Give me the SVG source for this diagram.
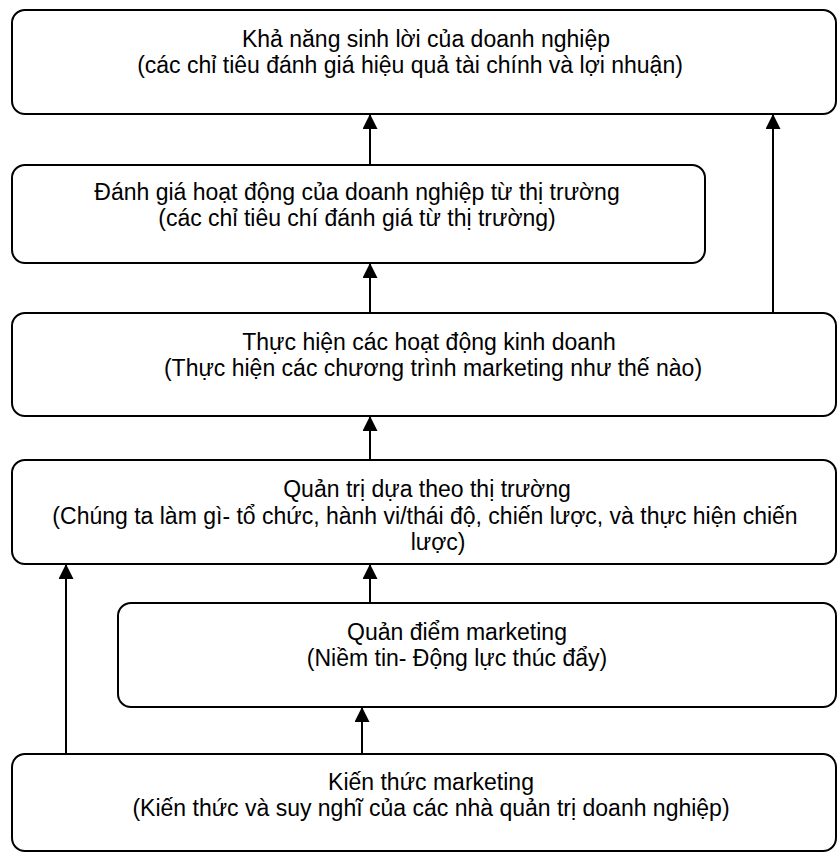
<svg xmlns="http://www.w3.org/2000/svg" width="838" height="853" viewBox="0 0 838 853">
<style>
.box{fill:#fff;stroke:#000;stroke-width:2}
.t{font-family:"Liberation Sans",Arial,sans-serif;font-size:23px;fill:#000;text-anchor:middle}
.c{stroke:#000;stroke-width:2;fill:none;marker-end:url(#ah)}
</style>
<defs>
<marker id="ah" markerUnits="userSpaceOnUse" markerWidth="16" markerHeight="16" refX="15" refY="7.5" orient="auto">
<path d="M0,0 L15,7.5 L0,15 z" fill="#000"/>
</marker>
</defs>
<rect width="838" height="853" fill="#fff"/>
<g id="n1">
<rect class="box" x="12" y="10" width="824" height="104" rx="13"/>
<text class="t" x="426" y="47">Khả năng sinh lời của doanh nghiệp</text>
<text class="t" x="410" y="73">(các chỉ tiêu đánh giá hiệu quả tài chính và lợi nhuận)</text>
</g>
<g id="n2">
<rect class="box" x="12" y="165" width="693" height="98" rx="13"/>
<text class="t" x="357" y="200">Đánh giá hoạt động của doanh nghiệp từ thị trường</text>
<text class="t" x="357" y="226">(các chỉ tiêu chí đánh giá từ thị trường)</text>
</g>
<g id="n3">
<rect class="box" x="12" y="313" width="824" height="103" rx="13"/>
<text class="t" x="429" y="350">Thực hiện các hoạt động kinh doanh</text>
<text class="t" x="433" y="376">(Thực hiện các chương trình marketing như thế nào)</text>
</g>
<g id="n4">
<rect class="box" x="12" y="460" width="824" height="104" rx="13"/>
<text class="t" x="427" y="497">Quản trị dựa theo thị trường</text>
<text class="t" x="425" y="524">(Chúng ta làm gì- tổ chức, hành vi/thái độ, chiến lược, và thực hiện chiến</text>
<text class="t" x="438" y="550">lược)</text>
</g>
<g id="n5">
<rect class="box" x="118" y="603" width="718" height="104" rx="13"/>
<text class="t" x="457" y="640">Quản điểm marketing</text>
<text class="t" x="457" y="666">(Niềm tin- Động lực thúc đẩy)</text>
</g>
<g id="n6">
<rect class="box" x="12" y="754" width="824" height="97" rx="13"/>
<text class="t" x="431" y="790">Kiến thức marketing</text>
<text class="t" x="431" y="816">(Kiến thức và suy nghĩ của các nhà quản trị doanh nghiệp)</text>
</g>
<g id="connectors">
<line class="c" x1="370" y1="165" x2="370" y2="114"/>
<line class="c" x1="370" y1="313" x2="370" y2="263"/>
<line class="c" x1="773" y1="313" x2="773" y2="114"/>
<line class="c" x1="370" y1="460" x2="370" y2="416"/>
<line class="c" x1="370" y1="603" x2="370" y2="564"/>
<line class="c" x1="66" y1="754" x2="66" y2="564"/>
<line class="c" x1="362" y1="754" x2="362" y2="707"/>
</g>
</svg>
